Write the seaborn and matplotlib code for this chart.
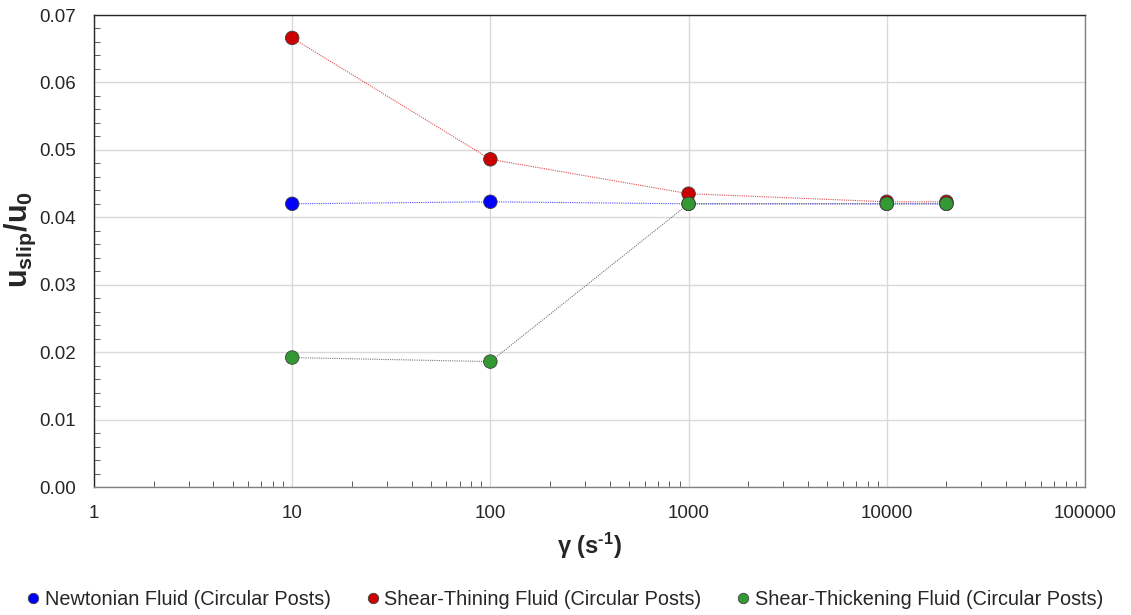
import numpy as np
import pandas as pd
import matplotlib
matplotlib.use("Agg")
import matplotlib.pyplot as plt
from matplotlib.ticker import LogLocator, MultipleLocator, FixedLocator, NullFormatter
import seaborn as sns

# shear rates (1/s)
shear_rate = [10, 100, 1000, 10000, 20000]

# u_slip / u_0 for each fluid
newtonian = [0.0420, 0.0423, 0.0420, 0.0420, 0.0420]
shear_thinning = [0.0666, 0.0486, 0.0435, 0.0423, 0.0423]
shear_thickening = [0.0192, 0.0186, 0.0420, 0.0420, 0.0420]

series_names = ["Newtonian Fluid (Circular Posts)",
                "Shear-Thining Fluid (Circular Posts)",
                "Shear-Thickening Fluid (Circular Posts)"]
marker_colors = ["#0000FF", "#CC0000", "#339933"]
line_colors = ["#0000FF", "#CC0000", "#404040"]

df = pd.DataFrame({
    "rate": shear_rate * 3,
    "ratio": newtonian + shear_thinning + shear_thickening,
    "fluid": np.repeat(series_names, len(shear_rate)),
})

sns.set_style("white")
plt.rcParams["font.family"] = ["Liberation Sans", "DejaVu Sans"]
# math only used in the (bold) axis titles
plt.rcParams["mathtext.fontset"] = "custom"
plt.rcParams["mathtext.rm"] = "Liberation Sans:bold"
plt.rcParams["mathtext.it"] = "Liberation Sans:bold"
plt.rcParams["mathtext.bf"] = "Liberation Sans:bold"
plt.rcParams["mathtext.default"] = "rm"

fig = plt.figure(figsize=(11.31, 6.15), dpi=100)
ax = fig.add_axes([0.0831, 0.2081, 0.9593 - 0.0831, 0.9756 - 0.2081])

# thin dotted connecting lines, then markers on top
for name, lc in zip(series_names, line_colors):
    sub = df[df["fluid"] == name]
    sns.lineplot(data=sub, x="rate", y="ratio", color=lc, lw=0.8, ls=(0, (1, 1)),
                 alpha=0.7, ax=ax, legend=False, zorder=3)

sns.scatterplot(data=df, x="rate", y="ratio", hue="fluid", hue_order=series_names,
                palette=marker_colors, s=95, edgecolor="#404040", linewidth=0.6,
                ax=ax, zorder=4, legend=True)

ax.set_xscale("log")
ax.set_xlim(1, 100000)
ax.set_ylim(0, 0.07)
ax.xaxis.set_major_locator(FixedLocator([1, 10, 100, 1000, 10000, 100000]))
ax.set_xticklabels(["1", "10", "100", "1000", "10000", "100000"])
ax.xaxis.set_minor_locator(LogLocator(base=10, subs=np.arange(2, 10), numticks=20))
ax.xaxis.set_minor_formatter(NullFormatter())
ax.yaxis.set_major_locator(MultipleLocator(0.01))
ax.yaxis.set_minor_locator(MultipleLocator(0.002))
ax.yaxis.set_major_formatter(plt.FuncFormatter(lambda v, p: f"{v:.2f}"))

ax.grid(True, which="major", color="#d9d9d9", lw=1.0, zorder=0)
ax.set_axisbelow(True)
ax.tick_params(which="major", direction="out", length=5, width=0.8, color="#404040",
               labelsize=13.5, pad=8)
ax.tick_params(which="minor", direction="in", length=4, width=0.6, color="#404040")
ax.tick_params(axis="x", which="minor", bottom=True)
ax.tick_params(axis="y", which="minor", left=True)

for side in ["top", "left"]:
    ax.spines[side].set_color("#262626")
    ax.spines[side].set_linewidth(1.0)
for side in ["right", "bottom"]:
    ax.spines[side].set_color("#808080")
    ax.spines[side].set_linewidth(1.0)

ax.set_xlabel(r"γ (s$^{\text{-}1}$)", fontsize=17, fontweight="bold", labelpad=6)
ax.set_ylabel(r"$u_{slip}/u_0$", fontsize=22)
ax.yaxis.set_label_coords(-0.057, 0.525)

handles, labels = ax.get_legend_handles_labels()
ax.get_legend().remove()
for h in handles:
    h.set_markersize(7.5)
fig.legend(handles, labels, loc="center", bbox_to_anchor=(0.499, 0.026), ncol=3,
           frameon=False, fontsize=14.3, handletextpad=0.2, columnspacing=1.7,
           handlelength=0.8, borderpad=0)

fig.savefig("out.png", dpi=100)
